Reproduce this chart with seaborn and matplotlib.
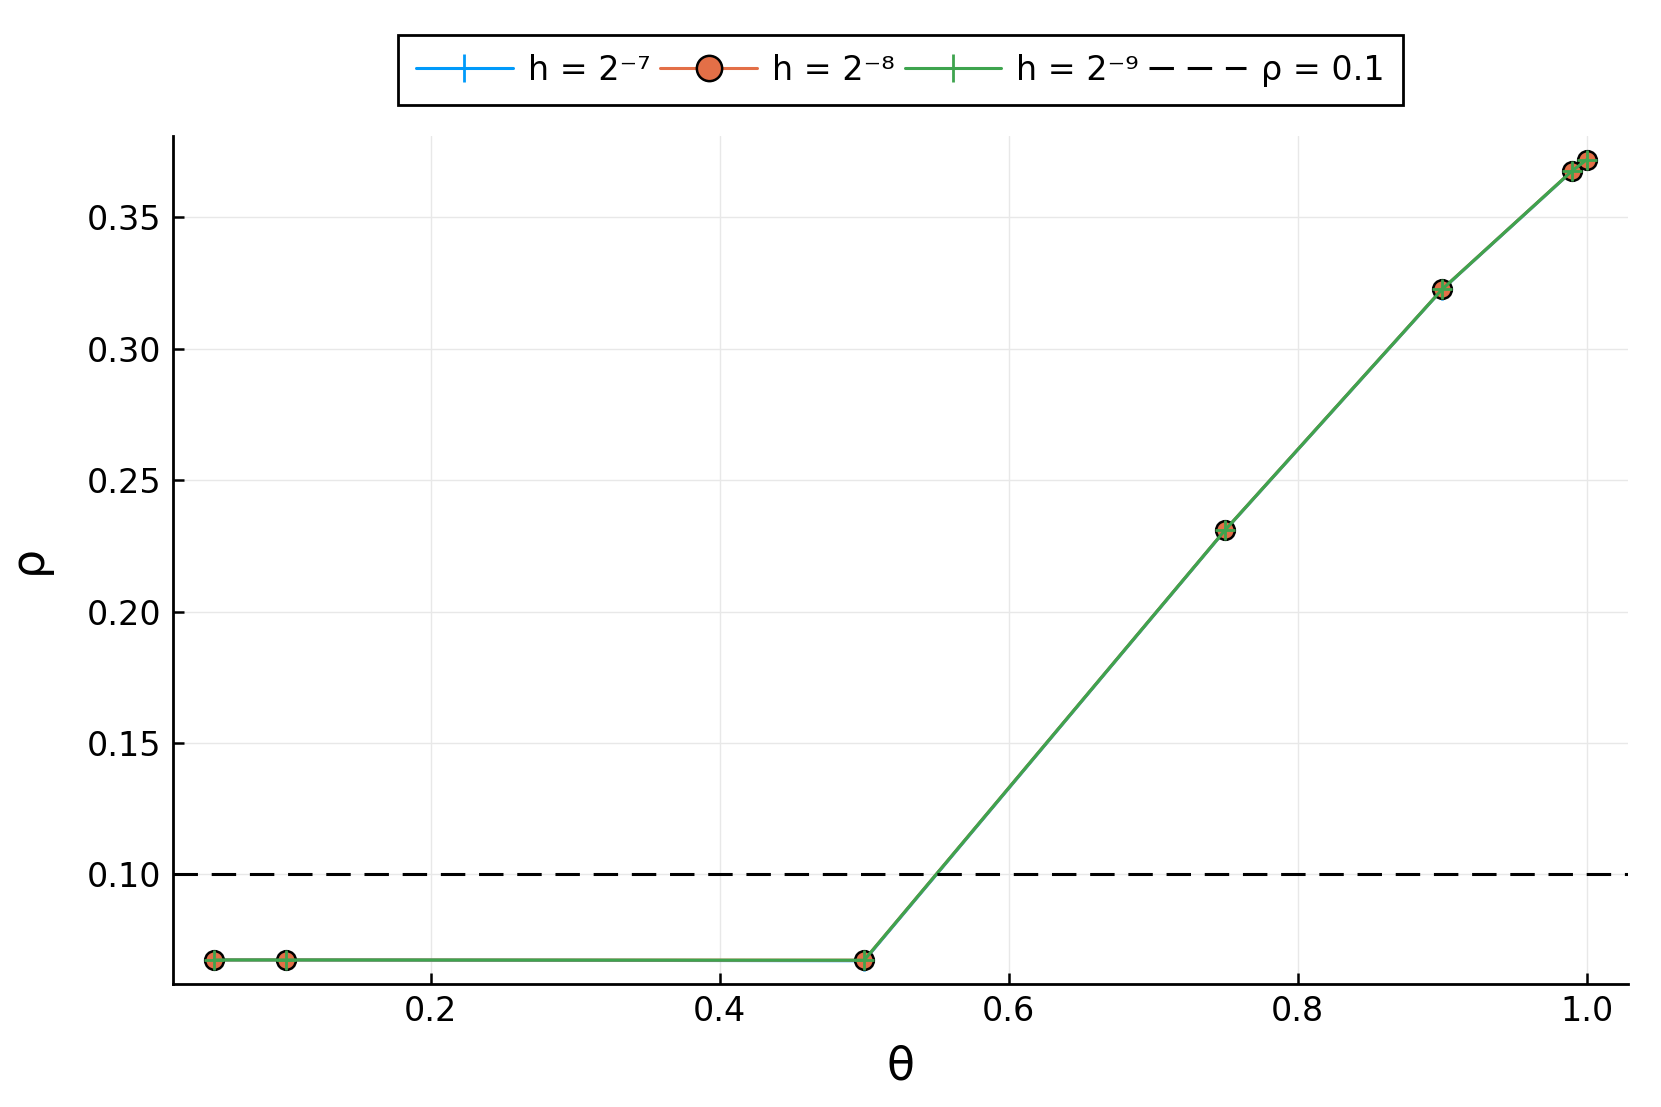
import matplotlib
matplotlib.use("Agg")
import matplotlib.pyplot as plt
import pandas as pd
import seaborn as sns

theta = [0.05, 0.1, 0.5, 0.75, 0.9, 0.99, 1.0]
rho_h7 = [0.0674, 0.0674, 0.0671, 0.2310, 0.3225, 0.3676, 0.3718]
rho_h8 = [0.0674, 0.0674, 0.0673, 0.2311, 0.3226, 0.3677, 0.3719]
rho_h9 = [0.0674, 0.0674, 0.0673, 0.2311, 0.3226, 0.3677, 0.3719]
series_names = ["h = 2⁻⁷", "h = 2⁻⁸", "h = 2⁻⁹"]
rho_threshold = 0.1

colors = ["#009AFA", "#E36F47", "#3EA44E"]


def buildFrame() -> pd.DataFrame:
    frames = []
    for name, vals in zip(series_names, [rho_h7, rho_h8, rho_h9]):
        frames.append(pd.DataFrame({"theta": theta, "rho": vals, "series": name}))
    return pd.concat(frames, ignore_index=True)


def plotResults(df: pd.DataFrame, fp: str) -> None:
    sns.set_style("white")
    plt.rcParams["font.family"] = ["DejaVu Sans"]
    plt.rcParams["text.color"] = "black"
    plt.rcParams["axes.labelcolor"] = "black"

    fig = plt.figure(figsize=(16.61, 11.07), dpi=100)
    ax = fig.add_axes([0.104, 0.111, 0.876, 0.7665])

    styles = {
        series_names[0]: dict(marker="+", markersize=15, markeredgewidth=2, markeredgecolor=colors[0]),
        series_names[1]: dict(marker="o", markersize=13.5, markeredgewidth=1.8, markeredgecolor="black"),
        series_names[2]: dict(marker="+", markersize=15, markeredgewidth=2, markeredgecolor=colors[2]),
    }
    for name, color in zip(series_names, colors):
        sub = df[df["series"] == name]
        sns.lineplot(data=sub, x="theta", y="rho", ax=ax, color=color, linewidth=2.2,
                     label=name, **styles[name])

    ax.axhline(rho_threshold, color="black", linestyle=(0, (8, 4.5)), linewidth=2.2,
               label=f"ρ = {rho_threshold}")

    ax.set_xlim(0.0215, 1.0285)
    ax.set_ylim(0.0582, 0.3811)
    ax.set_xticks([0.2, 0.4, 0.6, 0.8, 1.0])
    ax.set_xticklabels(["0.2", "0.4", "0.6", "0.8", "1.0"])
    ax.set_yticks([0.10, 0.15, 0.20, 0.25, 0.30, 0.35])
    ax.set_yticklabels(["0.10", "0.15", "0.20", "0.25", "0.30", "0.35"])

    ax.grid(True, color="#e8e8e8", linewidth=1.0)
    for side in ["top", "right"]:
        ax.spines[side].set_visible(False)
    for side in ["left", "bottom"]:
        ax.spines[side].set_color("black")
        ax.spines[side].set_linewidth(2.0)
    ax.tick_params(axis="both", direction="in", length=8, width=1.8, labelsize=24,
                   colors="black", pad=8)
    ax.tick_params(left=True, bottom=True)

    ax.set_xlabel("θ", fontsize=33, labelpad=12)
    ax.set_ylabel("ρ", fontsize=33, labelpad=26)

    leg = ax.legend(loc="lower center", bbox_to_anchor=(0.5, 1.036), ncol=4, fontsize=24,
                    frameon=True, fancybox=False, edgecolor="black", framealpha=1.0,
                    handlelength=2.9, columnspacing=0.3, handletextpad=0.45,
                    borderpad=0.55, borderaxespad=0, markerscale=1.35)
    leg.get_frame().set_linewidth(2.0)

    fig.savefig(fp, dpi=100)
    plt.close(fig)


if __name__ == "__main__":
    plotResults(buildFrame(), "out.png")
